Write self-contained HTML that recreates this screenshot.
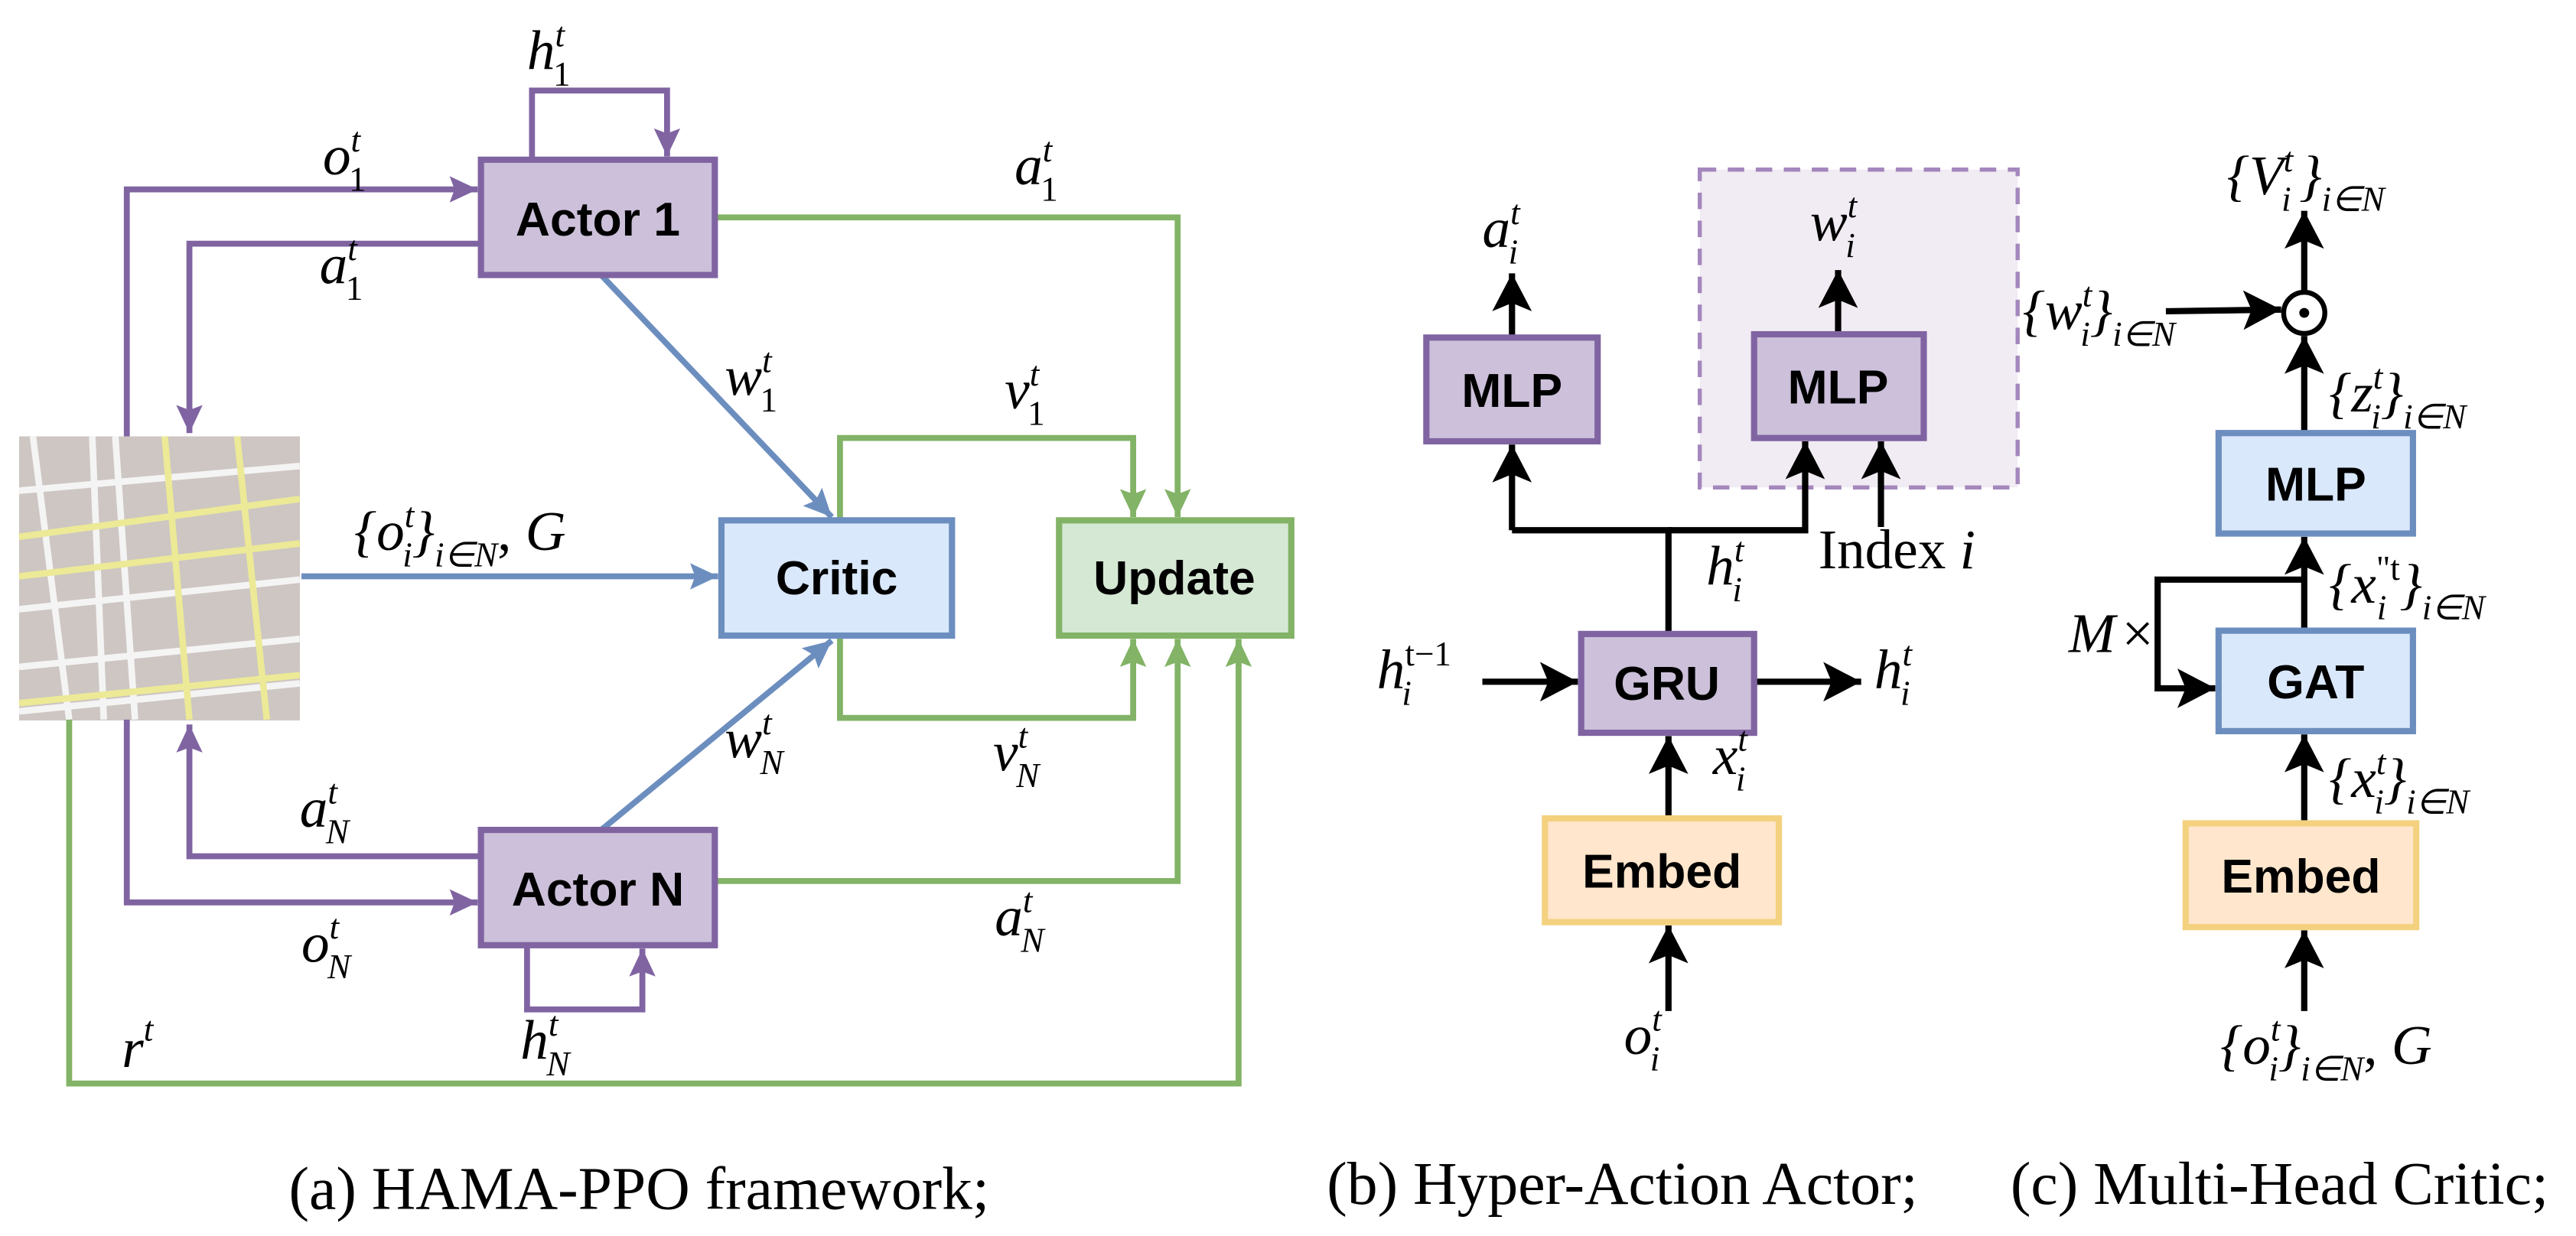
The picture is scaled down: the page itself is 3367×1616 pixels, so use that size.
<!DOCTYPE html>
<html><head><meta charset="utf-8"><style>
html,body{margin:0;padding:0;background:#fff}
svg{display:block}
.m{font-family:"Liberation Serif",serif;font-style:italic;font-size:34px;fill:#000}
.s{font-size:21px}
.n{font-style:normal}
.b{font-family:"Liberation Sans",sans-serif;font-weight:bold;font-size:29px;fill:#000;text-anchor:middle}
.cap{font-family:"Liberation Serif",serif;font-size:37px;fill:#000;text-anchor:middle}
</style></head><body>
<svg width="3367" height="1616" viewBox="0 0 1564 750.6" preserveAspectRatio="none" xmlns="http://www.w3.org/2000/svg">
<defs>
<marker id="ap" markerUnits="userSpaceOnUse" markerWidth="18" markerHeight="16" refX="17" refY="8" orient="auto"><path d="M0,0 L17,8 L0,16 L3,8 z" fill="#8064a2"/></marker>
<marker id="ab" markerUnits="userSpaceOnUse" markerWidth="18" markerHeight="16" refX="17" refY="8" orient="auto"><path d="M0,0 L17,8 L0,16 L3,8 z" fill="#6c8ebf"/></marker>
<marker id="ag" markerUnits="userSpaceOnUse" markerWidth="18" markerHeight="16" refX="17" refY="8" orient="auto"><path d="M0,0 L17,8 L0,16 L3,8 z" fill="#82b366"/></marker>
<marker id="ak" markerUnits="userSpaceOnUse" markerWidth="24" markerHeight="24" refX="23" refY="12" orient="auto"><path d="M0,0 L23,12 L0,24 L5,12 z" fill="#000"/></marker>
</defs>

<rect x="11.6" y="265" width="170.5" height="172.5" fill="#cdc6c2"/>
<g stroke="#f4f4f4" stroke-width="4">
<line x1="11.6" y1="298" x2="182" y2="283"/><line x1="11.6" y1="370" x2="182" y2="352"/><line x1="11.6" y1="405" x2="182" y2="388"/><line x1="11.6" y1="432" x2="182" y2="415"/>
<line x1="20" y1="265" x2="42" y2="437"/><line x1="56" y1="265" x2="63" y2="437"/><line x1="70" y1="265" x2="82" y2="437"/>
</g>
<g stroke="#ece997" stroke-width="4">
<line x1="11.6" y1="326" x2="182" y2="303"/><line x1="11.6" y1="350" x2="182" y2="330"/><line x1="11.6" y1="427" x2="182" y2="410"/>
<line x1="100" y1="265" x2="115" y2="437"/><line x1="144" y1="265" x2="162" y2="437"/>
</g>

<g fill="none" stroke="#8064a2" stroke-width="3.6">
<polyline points="77,265 77,115 290,115" marker-end="url(#ap)"/>
<polyline points="292,148 115,148 115,263" marker-end="url(#ap)"/>
<polyline points="292,520 115,520 115,440" marker-end="url(#ap)"/>
<polyline points="77,437 77,548 290,548" marker-end="url(#ap)"/>
<polyline points="323,97 323,55 405,55 405,95" marker-end="url(#ap)"/>
<polyline points="320,574 320,613 390,613 390,576" marker-end="url(#ap)"/>
</g>
<g fill="none" stroke="#6c8ebf" stroke-width="3.6">
<line x1="365" y1="167" x2="505" y2="314" marker-end="url(#ab)"/>
<line x1="365" y1="504" x2="505" y2="389" marker-end="url(#ab)"/>
<line x1="183" y1="350" x2="436" y2="350" marker-end="url(#ab)"/>
</g>
<g fill="none" stroke="#82b366" stroke-width="3.6">
<polyline points="434,132 715,132 715,314" marker-end="url(#ag)"/>
<polyline points="510,316 510,266 688,266 688,314" marker-end="url(#ag)"/>
<polyline points="510,386 510,436 688,436 688,388" marker-end="url(#ag)"/>
<polyline points="434,535 715,535 715,388" marker-end="url(#ag)"/>
<polyline points="42,437 42,658 752,658 752,388" marker-end="url(#ag)"/>
</g>

<rect x="292" y="97" width="142" height="70" fill="#ccc0da" stroke="#8064a2" stroke-width="3.8"/>
<text class="b" x="363" y="143">Actor 1</text>
<rect x="292" y="504" width="142" height="70" fill="#ccc0da" stroke="#8064a2" stroke-width="3.8"/>
<text class="b" x="363" y="550">Actor N</text>
<rect x="438" y="316" width="140" height="70" fill="#dae8fc" stroke="#6c8ebf" stroke-width="3.8"/>
<text class="b" x="508" y="361">Critic</text>
<rect x="643" y="316" width="141" height="70" fill="#d5e8d4" stroke="#82b366" stroke-width="3.8"/>
<text class="b" x="713" y="361">Update</text>

<text class="m" x="320" y="42">h<tspan class="s" dy="-14">t</tspan><tspan class="s n" dx="-7" dy="24">1</tspan></text>
<text class="m" x="196" y="106">o<tspan class="s" dy="-14">t</tspan><tspan class="s n" dx="-7" dy="24">1</tspan></text>
<text class="m" x="194" y="172">a<tspan class="s" dy="-14">t</tspan><tspan class="s n" dx="-7" dy="24">1</tspan></text>
<text class="m" x="616" y="112">a<tspan class="s" dy="-14">t</tspan><tspan class="s n" dx="-7" dy="24">1</tspan></text>
<text class="m" x="440" y="240">w<tspan class="s" dy="-14">t</tspan><tspan class="s n" dx="-7" dy="24">1</tspan></text>
<text class="m" x="610" y="248">v<tspan class="s" dy="-14">t</tspan><tspan class="s n" dx="-7" dy="24">1</tspan></text>
<text class="m" x="215" y="334">{o<tspan class="s" dy="-14">t</tspan><tspan class="s" dx="-7" dy="24">i</tspan><tspan dy="-10">}</tspan><tspan class="s" dy="10">i∈N</tspan><tspan class="n" dy="-10">, </tspan>G</text>
<text class="m" x="440" y="460">w<tspan class="s" dy="-14">t</tspan><tspan class="s" dx="-7" dy="24">N</tspan></text>
<text class="m" x="603" y="468">v<tspan class="s" dy="-14">t</tspan><tspan class="s" dx="-7" dy="24">N</tspan></text>
<text class="m" x="182" y="502">a<tspan class="s" dy="-14">t</tspan><tspan class="s" dx="-7" dy="24">N</tspan></text>
<text class="m" x="183" y="584">o<tspan class="s" dy="-14">t</tspan><tspan class="s" dx="-7" dy="24">N</tspan></text>
<text class="m" x="604" y="568">a<tspan class="s" dy="-14">t</tspan><tspan class="s" dx="-7" dy="24">N</tspan></text>
<text class="m" x="316" y="643">h<tspan class="s" dy="-14">t</tspan><tspan class="s" dx="-7" dy="24">N</tspan></text>
<text class="m" x="74" y="648">r<tspan class="s" dy="-16">t</tspan></text>
<text class="cap" x="388" y="734">(a) HAMA-PPO framework;</text>

<rect x="1032" y="103" width="193" height="193" fill="#f1ebf3" stroke="#a487bd" stroke-width="2.5" stroke-dasharray="10,7"/>
<g fill="none" stroke="#000" stroke-width="3.8">
<line x1="918" y1="205" x2="918" y2="166" marker-end="url(#ak)"/>
<line x1="1116" y1="203" x2="1116" y2="164" marker-end="url(#ak)"/>
<polyline points="1013,385 1013,322 918,322"/>
<line x1="918" y1="322" x2="918" y2="270" marker-end="url(#ak)"/>
<polyline points="1013,322 1096,322 1096,268" marker-end="url(#ak)"/>
<line x1="1142" y1="320" x2="1142" y2="268" marker-end="url(#ak)"/>
<line x1="900" y1="414" x2="958" y2="414" marker-end="url(#ak)"/>
<line x1="1065" y1="414" x2="1130" y2="414" marker-end="url(#ak)"/>
<line x1="1013" y1="497" x2="1013" y2="447" marker-end="url(#ak)"/>
<line x1="1013" y1="614" x2="1013" y2="562" marker-end="url(#ak)"/>
</g>
<rect x="866" y="205" width="104" height="63" fill="#ccc0da" stroke="#8064a2" stroke-width="3.8"/>
<text class="b" x="918" y="247">MLP</text>
<rect x="1065" y="203" width="103" height="63" fill="#ccc0da" stroke="#8064a2" stroke-width="3.8"/>
<text class="b" x="1116" y="245">MLP</text>
<rect x="960" y="385" width="105" height="60" fill="#ccc0da" stroke="#8064a2" stroke-width="3.8"/>
<text class="b" x="1012" y="425">GRU</text>
<rect x="938" y="497" width="142" height="63" fill="#ffe6cc" stroke="#f4d17f" stroke-width="3.8"/>
<text class="b" x="1009" y="539">Embed</text>
<text class="m" x="900" y="150">a<tspan class="s" dy="-14">t</tspan><tspan class="s" dx="-7" dy="24">i</tspan></text>
<text class="m" x="1099" y="146">w<tspan class="s" dy="-14">t</tspan><tspan class="s" dx="-7" dy="24">i</tspan></text>
<text class="m" x="1036" y="355">h<tspan class="s" dy="-14">t</tspan><tspan class="s" dx="-7" dy="24">i</tspan></text>
<text class="m n" x="1104" y="345">Index <tspan style="font-style:italic">i</tspan></text>
<text class="m" x="836" y="418">h<tspan class="s n" dy="-14">t−1</tspan><tspan class="s" dx="-30" dy="24">i</tspan></text>
<text class="m" x="1138" y="418">h<tspan class="s" dy="-14">t</tspan><tspan class="s" dx="-7" dy="24">i</tspan></text>
<text class="m" x="1040" y="470">x<tspan class="s" dy="-14">t</tspan><tspan class="s" dx="-7" dy="24">i</tspan></text>
<text class="m" x="986" y="640">o<tspan class="s" dy="-14">t</tspan><tspan class="s" dx="-7" dy="24">i</tspan></text>
<text class="cap" x="985" y="731">(b) Hyper-Action Actor;</text>

<g fill="none" stroke="#000" stroke-width="3.8">
<line x1="1399" y1="178" x2="1399" y2="128" marker-end="url(#ak)"/>
<line x1="1315" y1="189" x2="1385" y2="188" marker-end="url(#ak)"/>
<line x1="1399" y1="263" x2="1399" y2="204" marker-end="url(#ak)"/>
<line x1="1399" y1="383" x2="1399" y2="326" marker-end="url(#ak)"/>
<polyline points="1399,352 1310,352 1310,418 1345,418" marker-end="url(#ak)"/>
<line x1="1399" y1="500" x2="1399" y2="446" marker-end="url(#ak)"/>
<line x1="1399" y1="614" x2="1399" y2="565" marker-end="url(#ak)"/>
<circle cx="1399" cy="190" r="12.5" fill="#fff" stroke-width="3"/>
</g>
<circle cx="1399" cy="190" r="3" fill="#000"/>
<rect x="1347" y="263" width="118" height="61" fill="#dae8fc" stroke="#6c8ebf" stroke-width="3.8"/>
<text class="b" x="1406" y="304">MLP</text>
<rect x="1347" y="383" width="118" height="61" fill="#dae8fc" stroke="#6c8ebf" stroke-width="3.8"/>
<text class="b" x="1406" y="424">GAT</text>
<rect x="1327" y="500" width="140" height="63" fill="#ffe6cc" stroke="#f4d17f" stroke-width="3.8"/>
<text class="b" x="1397" y="542">Embed</text>
<text class="m" x="1352" y="118">{V<tspan class="s" dy="-14">t</tspan><tspan class="s" dx="-7" dy="24">i</tspan><tspan dx="5" dy="-10">}</tspan><tspan class="s" dy="10">i∈N</tspan></text>
<text class="m" x="1228" y="200">{w<tspan class="s" dy="-14">t</tspan><tspan class="s" dx="-7" dy="24">i</tspan><tspan dy="-10">}</tspan><tspan class="s" dy="10">i∈N</tspan></text>
<text class="m" x="1414" y="250">{z<tspan class="s" dy="-14">t</tspan><tspan class="s" dx="-7" dy="24">i</tspan><tspan dy="-10">}</tspan><tspan class="s" dy="10">i∈N</tspan></text>
<text class="m" x="1414" y="366">{x<tspan class="s n" dy="-14">"t</tspan><tspan class="s" dx="-14" dy="24">i</tspan><tspan dx="8" dy="-10">}</tspan><tspan class="s" dy="10">i∈N</tspan></text>
<text class="m" x="1256" y="396">M<tspan class="n" dx="4">×</tspan></text>
<text class="m" x="1414" y="484">{x<tspan class="s" dy="-14">t</tspan><tspan class="s" dx="-7" dy="24">i</tspan><tspan dy="-10">}</tspan><tspan class="s" dy="10">i∈N</tspan></text>
<text class="m" x="1348" y="646">{o<tspan class="s" dy="-14">t</tspan><tspan class="s" dx="-7" dy="24">i</tspan><tspan dy="-10">}</tspan><tspan class="s" dy="10">i∈N</tspan><tspan class="n" dy="-10">, </tspan>G</text>
<text class="cap" x="1384" y="731">(c) Multi-Head Critic;</text>
</svg>
</body></html>
